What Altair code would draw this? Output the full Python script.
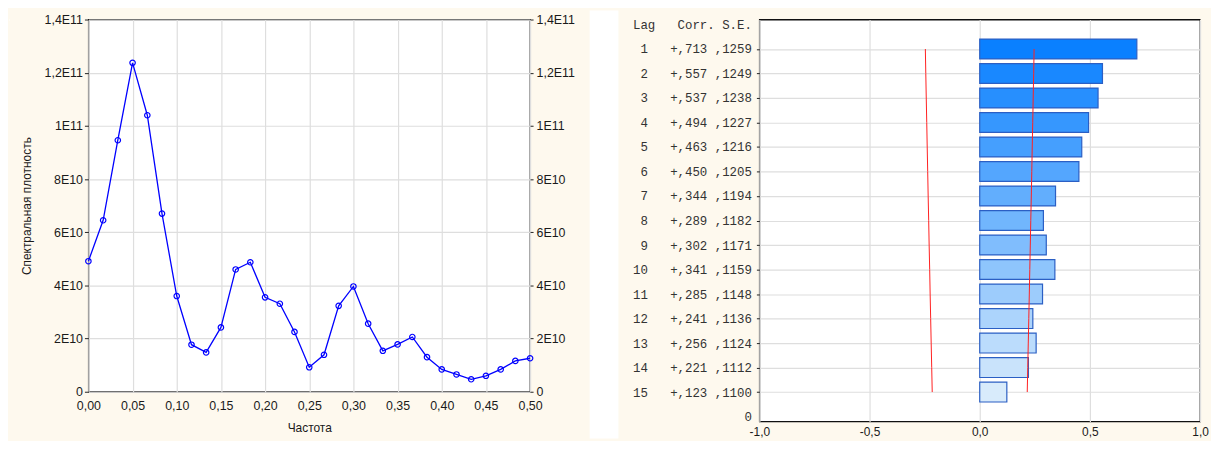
import json
import altair as alt
import pandas as pd

# ---------------- left panel: spectral density ----------------
freq = [0.0, 0.0167, 0.0333, 0.05, 0.0667, 0.0833, 0.1, 0.1167, 0.1333, 0.15,
        0.1667, 0.1833, 0.2, 0.2167, 0.2333, 0.25, 0.2667, 0.2833, 0.3, 0.3167,
        0.3333, 0.35, 0.3667, 0.3833, 0.4, 0.4167, 0.4333, 0.45, 0.4667, 0.4833, 0.5]
density = [4.91e10, 6.45e10, 9.46e10, 12.37e10, 10.40e10, 6.70e10, 3.60e10, 1.77e10,
           1.48e10, 2.42e10, 4.60e10, 4.87e10, 3.55e10, 3.31e10, 2.25e10, 0.92e10,
           1.39e10, 3.23e10, 3.96e10, 2.56e10, 1.54e10, 1.78e10, 2.06e10, 1.30e10,
           0.84e10, 0.65e10, 0.47e10, 0.60e10, 0.84e10, 1.16e10, 1.26e10]
x_ticks_left = [0.0, 0.05, 0.1, 0.15, 0.2, 0.25, 0.3, 0.35, 0.4, 0.45, 0.5]
y_ticks_left = [0, 2e10, 4e10, 6e10, 8e10, 10e10, 12e10, 14e10]

# ---------------- right panel: autocorrelation ----------------
lags = [1, 2, 3, 4, 5, 6, 7, 8, 9, 10, 11, 12, 13, 14, 15]
corr = [0.713, 0.557, 0.537, 0.494, 0.463, 0.450, 0.344, 0.289, 0.302, 0.341,
        0.285, 0.241, 0.256, 0.221, 0.123]
se = [0.1259, 0.1249, 0.1238, 0.1227, 0.1216, 0.1205, 0.1194, 0.1182, 0.1171,
      0.1159, 0.1148, 0.1136, 0.1124, 0.1112, 0.1100]
header = "Lag   Corr. S.E."
x_ticks_right = [-1.0, -0.5, 0.0, 0.5, 1.0]

NB = "\u00a0"
n_lag = len(lags)
top_pos = n_lag + 1

df_left = pd.DataFrame({"freq": freq, "density": density})

df_bars = pd.DataFrame({
    "lag": lags,
    "corr": corr,
    "pos": [top_pos - l for l in lags],
})
df_lim = pd.DataFrame({
    "pos": [top_pos - l for l in lags] * 2,
    "val": [-1.96 * s for s in se] + [1.96 * s for s in se],
    "side": ["lo"] * n_lag + ["hi"] * n_lag,
})


def row_label(l, c, s):
    sign = "+" if c >= 0 else "-"
    cs = f"{abs(c):.3f}"[1:].replace(".", ",")
    ss = f"{s:.4f}"[1:].replace(".", ",")
    return f"{l:2d}   {sign}{cs} {ss}".replace(" ", NB)


ylabels = ["0"] + [row_label(l, c, s) for l, c, s in
                   reversed(list(zip(lags, corr, se)))] + [header.replace(" ", NB)]
y_label_expr = json.dumps(ylabels, ensure_ascii=False) + "[datum.value]"

FONT = "Liberation Sans"
TXT = "#1a1a1a"
BG = "#FEF9EE"

one = pd.DataFrame({"k": [0]})


def deco(x1, x2, y1, y2, color="white"):
    return alt.Chart(one).mark_rect(color=color).encode(
        x=alt.value(x1), x2=alt.value(x2), y=alt.value(y1), y2=alt.value(y2))


# ---------------- left chart ----------------
xl = alt.X("freq:Q", scale=alt.Scale(domain=[0, 0.5], nice=False),
           axis=alt.Axis(values=x_ticks_left, tickCount=len(x_ticks_left),
                         labelExpr="replace(format(datum.value, '.2f'), '.', ',')",
                         title="Частота", ticks=False, labelPadding=8,
                         titlePadding=11, grid=True, labelFlush=False,
                         labelOverlap=False, domain=False, labelFontSize=12.5))

y_expr = ("datum.value == 0 ? '0' : (datum.value < 1e11 ? (round(datum.value/1e10)) + 'E10' : "
          "replace(toString(round(datum.value/1e10)/10), '.', ',') + 'E11')")

line = alt.Chart(df_left).mark_line(color="#0000FF", strokeWidth=1.3).encode(
    x=xl,
    y=alt.Y("density:Q", scale=alt.Scale(domain=[0, 1.4e11], nice=False),
            axis=alt.Axis(orient="left", values=y_ticks_left, tickCount=len(y_ticks_left),
                          labelExpr=y_expr, labelFontSize=12.5,
                          title="Спектральная плотность", tickSize=4, labelPadding=2,
                          titlePadding=11, grid=True, domain=False,
                          labelOverlap=False, labelFlush=False)),
)
pts = alt.Chart(df_left).mark_point(shape="circle", filled=False, size=30,
                                    color="#0000FF", strokeWidth=1.2, opacity=1).encode(
    x=xl,
    y=alt.Y("density:Q", scale=alt.Scale(domain=[0, 1.4e11], nice=False),
            axis=alt.Axis(orient="right", values=y_ticks_left, tickCount=len(y_ticks_left),
                          labelExpr=y_expr, labelFontSize=12.5,
                          title=None, tickSize=3, labelPadding=3, grid=False,
                          domain=False, labelOverlap=False, labelFlush=False)),
)
left = alt.layer(
    deco(-80, -79, 0, 1),
    line, pts,
).resolve_scale(y="independent").properties(width=445, height=375)

# ---------------- right chart ----------------
edge_test = f"datum.value == 0 || datum.value == {top_pos}"
xr = alt.X("corr:Q", scale=alt.Scale(domain=[-1, 1], nice=False),
           axis=alt.Axis(values=x_ticks_right, tickCount=len(x_ticks_right),
                         labelExpr="(datum.value < 0 ? '-' : '') + replace(format(abs(datum.value), '.1f'), '.', ',')",
                         title=None, ticks=False, labelPadding=5, grid=True,
                         labelFlush=False, labelOverlap=False, domain=False))
yr = alt.Y("pos:Q", scale=alt.Scale(domain=[0, top_pos], nice=False),
           axis=alt.Axis(values=list(range(0, top_pos + 1)), tickCount=top_pos + 1,
                         labelExpr=y_label_expr,
                         title=None, tickSize=3, labelPadding=5, grid=True,
                         tickOpacity={"condition": {"test": edge_test, "value": 0}, "value": 1},
                         gridOpacity={"condition": {"test": edge_test, "value": 0}, "value": 1},
                         labelFont="Liberation Mono", labelFontSize=12.5,
                         labelColor="#333333", domain=False, labelOverlap=False,
                         labelFlush=False))

bars = alt.Chart(df_bars).mark_bar(orient="horizontal", size=20, stroke="#2B5FC4",
                                   strokeWidth=1.2).encode(
    x=xr,
    y=yr,
    color=alt.Color("lag:Q", scale=alt.Scale(domain=[1, 15],
                                             range=["#0A80FF", "#D8EBFB"],
                                             interpolate="rgb"), legend=None),
)
lims = alt.Chart(df_lim).mark_line(color="#FF2020", strokeWidth=1).encode(
    x=alt.X("val:Q"), y=alt.Y("pos:Q"), detail="side:N", order="pos:Q")

right = alt.layer(
    deco(-171, -142, -9, 422),
    deco(444, 454, 0, 1, BG),
    bars, lims,
).properties(width=444, height=405)

chart = alt.hconcat(left, right, spacing=231, bounds="flush").properties(
    padding=0
).configure(background=BG).configure_view(
    stroke="#111111", strokeWidth=1.3, fill="white"
).configure_axis(
    labelFont=FONT, labelFontSize=12, labelColor=TXT, titleFont=FONT,
    titleFontSize=12, titleColor=TXT, titleFontWeight="normal",
    gridColor="#DEDEDE", gridWidth=1.2, tickColor="#222222",
)

chart.save("out.html", embed_options={"renderer": "svg", "actions": False})
